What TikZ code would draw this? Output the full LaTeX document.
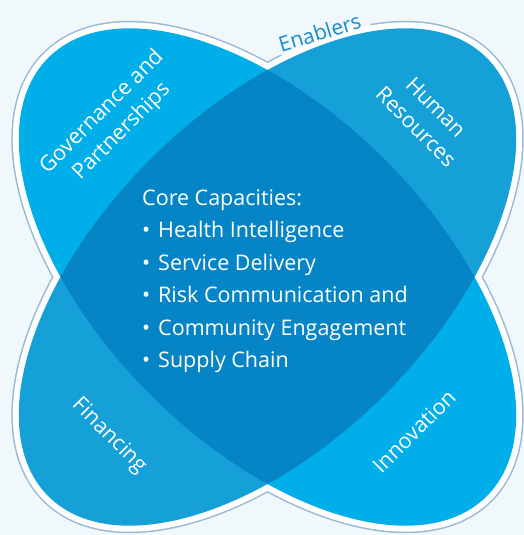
\documentclass[tikz,border=0pt]{standalone}
\usepackage{fontspec}
\setmainfont{Open Sans}
\usetikzlibrary{positioning}

\definecolor{paper}{RGB}{241,248,252}
\definecolor{rim}{RGB}{150,185,215}
\definecolor{petalA}{RGB}{0,174,234}
\definecolor{petalB}{RGB}{22,160,216}
\definecolor{corefill}{RGB}{6,133,198}
\definecolor{tagblue}{RGB}{22,140,204}

% bullet with a fixed indent for the capacities list
\newcommand{\capitem}[1]{\makebox[16pt][l]{\textbullet}#1}

\begin{document}
\begin{tikzpicture}[
    x=1pt, y=-1pt,
    lobe/.style={x radius=310pt, y radius=166pt},
    petal label/.style={align=center, text=white, inner sep=0pt, font=\fontsize{21.5}{28}\selectfont},
    core list/.style={align=left, text=white, inner sep=0pt, font=\fontsize{21.5}{32.5}\selectfont},
    tag/.style={text=tagblue, inner sep=0pt, font=\fontsize{21}{24}\selectfont}
]
\useasboundingbox (0,0) rectangle (524,535);
\fill[paper] (0,0) rectangle (524,535);
\coordinate (core) at (267.5,277);

% outer rim around both lobes
\foreach \tilt in {-45,45}
  \draw[rim, line width=15pt, rotate around={\tilt:(core)}] (core) ellipse [lobe];
% gap in the rim for the label
\node[fill=paper, rotate=17, minimum width=94pt, minimum height=14pt, inner sep=0pt] (gap) at (325,37) {};
\foreach \tilt in {-45,45}
  \draw[white, line width=12pt, rotate around={\tilt:(core)}] (core) ellipse [lobe];

% the two lobes and their overlap
\fill[petalA, rotate around={-45:(core)}] (core) ellipse [lobe];
\fill[petalB, rotate around={45:(core)}] (core) ellipse [lobe];
\begin{scope}
  \clip[rotate around={-45:(core)}] (core) ellipse [lobe];
  \fill[corefill, rotate around={45:(core)}] (core) ellipse [lobe];
\end{scope}

% Labels
\node[tag, rotate=17, anchor=base] (enablers) at (322,40) {Enablers};
\node[petal label, rotate=45] (gov) at (112,122) {Governance and\\Partnerships};
\node[petal label, rotate=-45] (hr) at (426,117) {Human\\Resources};
\node[petal label, rotate=-45] (fin) at (109,436) {Financing};
\node[petal label, rotate=45] (inno) at (414,431) {Innovation};

\node[core list, anchor=north west] (caps) at (142,189.5) {Core Capacities:\\
  \capitem{Health Intelligence}\\
  \capitem{Service Delivery}\\
  \capitem{Risk Communication and}\\
  \capitem{Community Engagement}\\
  \capitem{Supply Chain}};
\end{tikzpicture}
\end{document}
